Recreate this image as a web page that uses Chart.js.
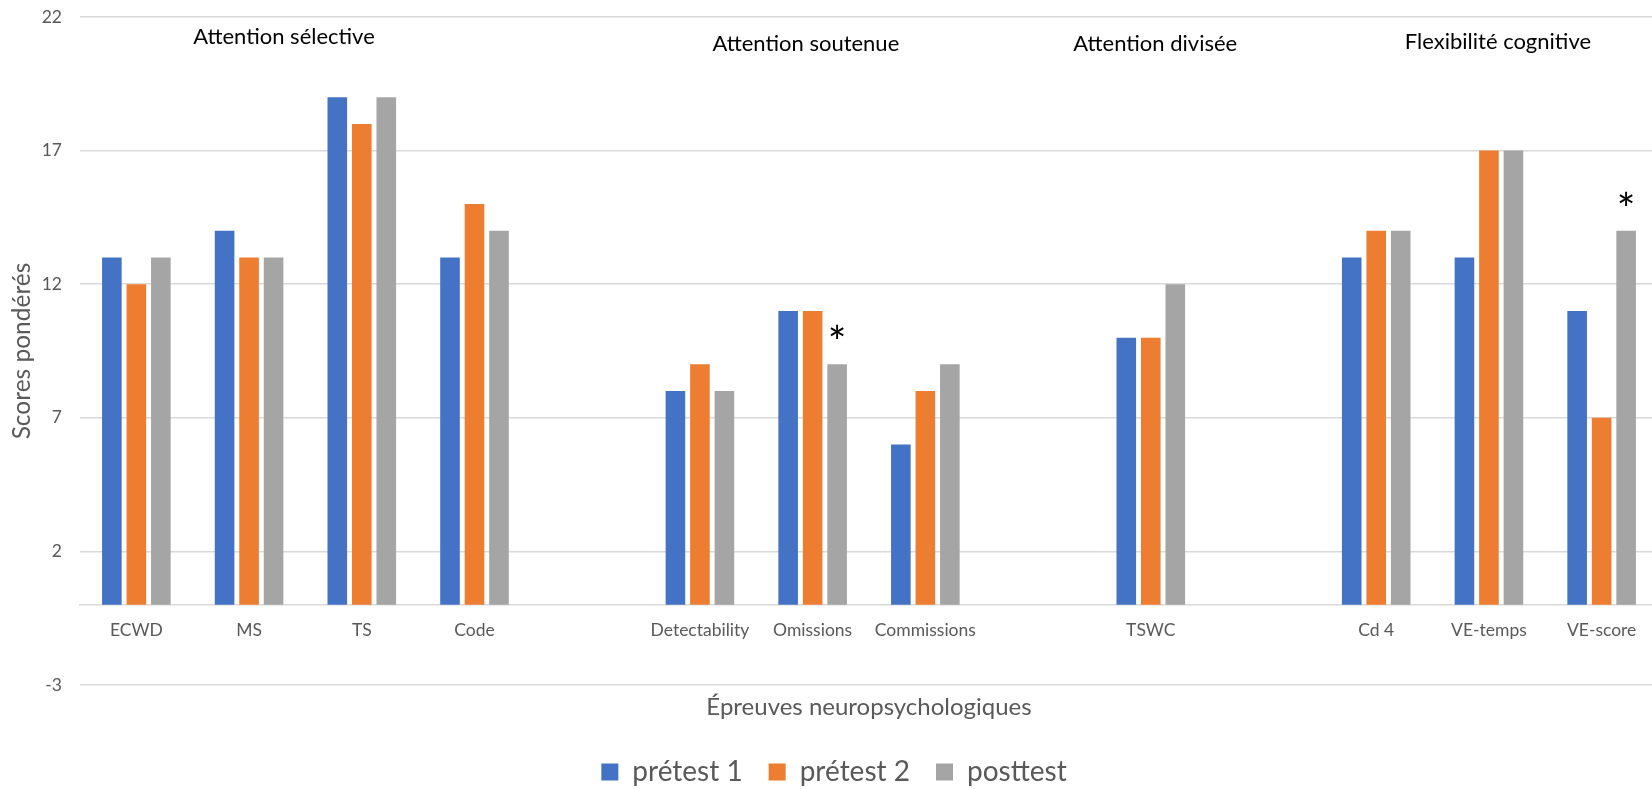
<!DOCTYPE html>
<html lang="fr">
<head>
<meta charset="utf-8">
<title>Scores pondérés par épreuve</title>
<script src="https://cdn.jsdelivr.net/npm/chart.js@4"></script>
<style>
  html, body { margin: 0; padding: 0; background: #ffffff; overflow: hidden; }
  #wrap { position: relative; width: 1670px; height: 796px; }
</style>
</head>
<body>
<div id="wrap"><canvas id="chart"></canvas></div>
<script>
// Épreuves (les cases vides séparent les domaines)
const categories = ['ECWD', 'MS', 'TS', 'Code', '', 'Detectability', 'Omissions', 'Commissions', '', 'TSWC', '', 'Cd 4', 'VE-temps', 'VE-score'];

// Scores pondérés par passation
const pretest1 = [13, 14, 19, 13, null, 8, 11, 6, null, 10, null, 13, 13, 11];
const pretest2 = [12, 13, 18, 15, null, 9, 11, 8, null, 10, null, 14, 17, 7];
const posttest = [13, 13, 19, 14, null, 8, 9, 9, null, 12, null, 14, 17, 14];

const seriesNames = ['prétest 1', 'prétest 2', 'posttest'];

// Graduations de l'axe des scores
const yTicks = [-3, 2, 7, 12, 17, 22];

// Domaines cognitifs et épreuves significatives (posttest)
const domains = ['Attention sélective', 'Attention soutenue', 'Attention divisée', 'Flexibilité cognitive'];
const significant = ['Omissions', 'VE-score'];

// Ancrage des titres de domaine (index de catégorie, valeur de score)
const domainAnchors = [
  { x: 1.31, y: 21.26 },
  { x: 5.94, y: 21.0 },
  { x: 9.04, y: 21.0 },
  { x: 12.08, y: 21.07 }
];

const FONT = 'Lato, "Open Sans", sans-serif';
const GREY_TEXT = '#595959';
const GRID = '#d9d9d9';

const domainTitles = {
  id: 'domainTitles',
  afterDraw(chart) {
    const { ctx, scales: { x, y } } = chart;
    ctx.save();
    ctx.fillStyle = '#000000';
    ctx.font = '22px ' + FONT;
    ctx.textAlign = 'center';
    ctx.textBaseline = 'middle';
    domains.forEach((name, i) => {
      const a = domainAnchors[i];
      ctx.fillText(name, x.getPixelForValue(a.x), y.getPixelForValue(a.y));
    });
    ctx.restore();
  }
};

const significanceMarks = {
  id: 'significanceMarks',
  afterDatasetsDraw(chart) {
    const { ctx } = chart;
    const meta = chart.getDatasetMeta(2);
    ctx.save();
    ctx.fillStyle = '#000000';
    ctx.font = '44px ' + FONT;
    ctx.textAlign = 'center';
    ctx.textBaseline = 'alphabetic';
    significant.forEach(label => {
      const i = categories.indexOf(label);
      const bar = meta.data[i];
      if (bar) ctx.fillText('*', bar.x, bar.y - 6);
    });
    ctx.restore();
  }
};

new Chart(document.getElementById('chart'), {
  type: 'bar',
  data: {
    labels: categories,
    datasets: [
      { label: seriesNames[0], data: pretest1, backgroundColor: '#4472C4' },
      { label: seriesNames[1], data: pretest2, backgroundColor: '#ED7D31' },
      { label: seriesNames[2], data: posttest, backgroundColor: '#A5A5A5' }
    ]
  },
  options: {
    responsive: true,
    maintainAspectRatio: false,
    animation: false,
    events: [],
    categoryPercentage: 0.652,
    barPercentage: 0.8,
    layout: { padding: { left: 10, right: 12, top: 17, bottom: 0 } },
    scales: {
      x: {
        type: 'category',
        position: { y: 0 },
        grid: { display: false, drawTicks: false },
        border: { display: true, color: GRID, width: 1.5 },
        ticks: {
          color: GREY_TEXT,
          font: { family: FONT, size: 17.5 },
          padding: 15,
          autoSkip: false,
          maxRotation: 0
        }
      },
      x2: {
        type: 'category',
        position: 'bottom',
        grid: { display: false, drawTicks: false },
        border: { display: false },
        ticks: { display: false },
        title: {
          display: true,
          text: 'Épreuves neuropsychologiques',
          color: GREY_TEXT,
          font: { family: FONT, size: 24, lineHeight: 1 },
          padding: { top: 0, bottom: 13 }
        },
        afterFit(scale) { scale.height = 47; }
      },
      y: {
        min: -3,
        max: 22,
        afterBuildTicks(scale) { scale.ticks = yTicks.map(v => ({ value: v })); },
        grid: { color: GRID, lineWidth: 1.5, drawTicks: false },
        border: { display: false },
        ticks: {
          color: GREY_TEXT,
          font: { family: FONT, size: 17.5 },
          padding: 18
        },
        title: {
          display: true,
          text: 'Scores pondérés',
          color: GREY_TEXT,
          font: { family: FONT, size: 24.5, lineHeight: 1 },
          padding: { top: 0, bottom: 0 }
        },
        afterFit(scale) {
          scale.width = 70;
          // the tick padding is horizontal only: keep it out of the top/bottom margins
          scale.paddingTop = 0;
          scale.paddingBottom = 0;
        }
      }
    },
    plugins: {
      legend: {
        position: 'bottom',
        labels: {
          color: GREY_TEXT,
          font: { family: FONT, size: 28 },
          boxWidth: 17,
          boxHeight: 17,
          padding: 26
        }
      },
      tooltip: { enabled: false }
    }
  },
  plugins: [domainTitles, significanceMarks]
});
</script>
</body>
</html>
